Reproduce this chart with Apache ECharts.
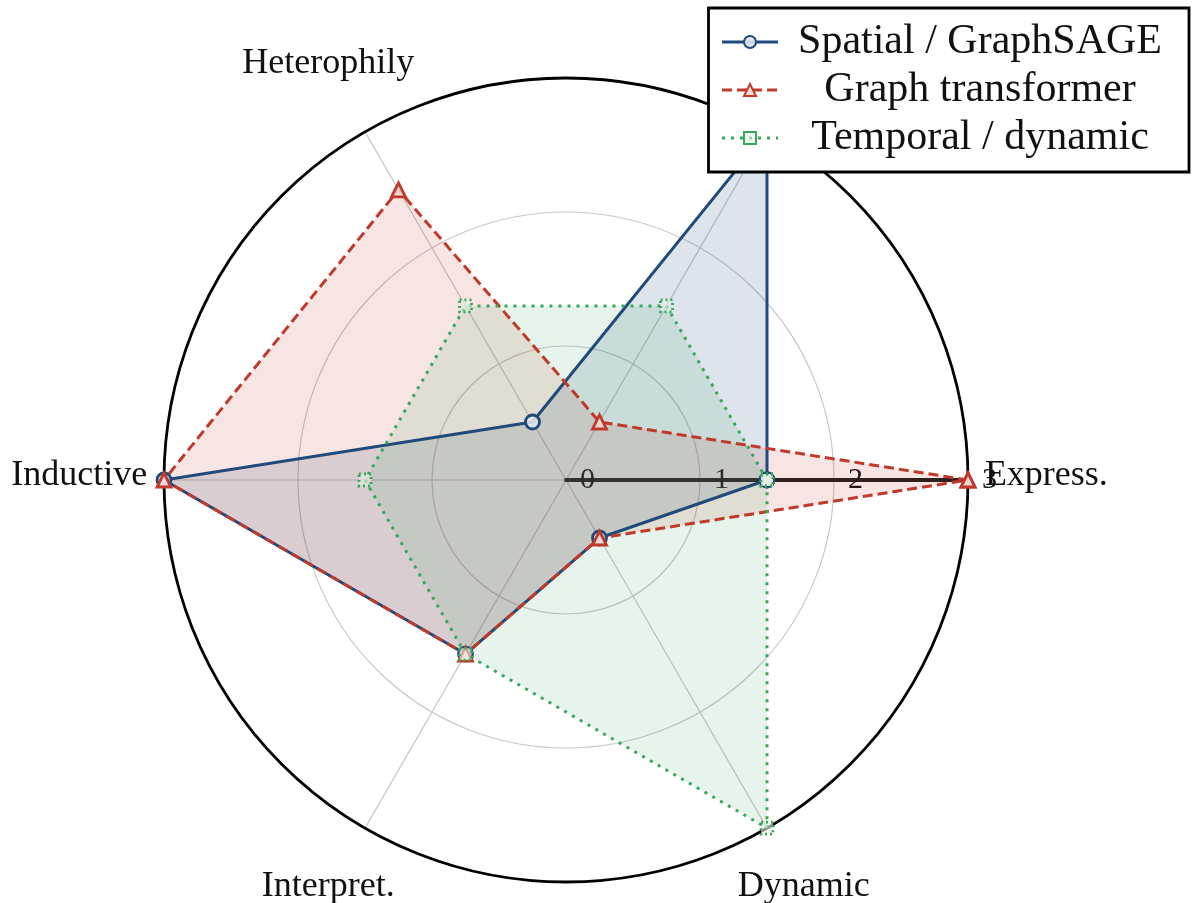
<!DOCTYPE html>
<html>
<head>
<meta charset="utf-8">
<script src="https://cdn.jsdelivr.net/npm/echarts@6/dist/echarts.min.js"></script>
<style>
  html, body { margin: 0; padding: 0; background: #fff; }
  #chart { width: 1198px; height: 903px; }
</style>
</head>
<body>
<div id="chart"></div>
<script>
// Axes of the comparison, counter-clockwise from the right
const categories = ['Express.', 'Scalability', 'Heterophily', 'Inductive', 'Interpret.', 'Dynamic'];

// Scores per model family (0–3)
const spatialGraphSAGE = [1.5, 3, 0.5, 3, 1.5, 0.5];
const graphTransformer = [3, 0.5, 2.5, 3, 1.5, 0.5];
const temporalDynamic = [1.5, 1.5, 1.5, 1.5, 1.5, 3];

const seriesNames = ['Spatial / GraphSAGE', 'Graph transformer', 'Temporal / dynamic'];
const radiusTicks = [0, 1, 2, 3];

const SERIF = 'Liberation Serif';
const STEP = 360 / categories.length;
const R_MAX = radiusTicks[radiusTicks.length - 1];
const NAME_R_SIDE = R_MAX * 1.042;   // horizontal axes: name starts just past the ring
const NAME_R_DIAG = R_MAX * 1.183;   // slanted axes: name centred further out

// [radius, angle] pairs, closed back onto the first axis
function toPolar(values) {
  const pts = values.map((v, i) => [v, i * STEP]);
  pts.push([values[0], 360]);
  return pts;
}

function profile(name, values, color, dash, symbol, fillOpacity, markerFill) {
  return {
    name: name,
    type: 'line',
    coordinateSystem: 'polar',
    data: toPolar(values),
    symbol: symbol,
    symbolSize: symbol === 'rect' ? 12 : 14,
    showSymbol: true,
    lineStyle: { color: color, width: 3, type: dash, cap: 'butt' },
    itemStyle: {
      color: markerFill,
      borderColor: color,
      borderWidth: 2.8,
      borderType: symbol === 'rect' ? [2, 3] : 'solid'
    },
    areaStyle: { color: color, opacity: fillOpacity },
    emphasis: { disabled: true },
    z: 3
  };
}

// Axis-name points: names on the horizontal axes hug the ring, the rest are centred
function namePoint(c, i) {
  const a = i * STEP;
  const cos = Math.cos(a * Math.PI / 180);
  const horizontal = Math.abs(Math.abs(cos) - 1) < 1e-6;
  return {
    name: c,
    value: [horizontal ? NAME_R_SIDE : NAME_R_DIAG, a],
    label: horizontal
      ? { align: cos > 0 ? 'left' : 'right', offset: [0, -4] }
      : { align: 'center', offset: [0, -5] }
  };
}

const chart = echarts.init(document.getElementById('chart'), null, { renderer: 'canvas' });

chart.setOption({
  animation: false,
  backgroundColor: '#fff',
  polar: { center: [566, 480], radius: 402 },
  angleAxis: {
    type: 'value',
    min: 0,
    max: 360,
    interval: STEP,
    startAngle: 0,
    clockwise: false,
    axisLine: { lineStyle: { color: '#000', width: 2.8 } },
    axisTick: { show: false },
    axisLabel: { show: false },
    splitLine: { show: true, lineStyle: { color: '#c8c8c8', width: 1.2 } }
  },
  radiusAxis: {
    type: 'value',
    min: radiusTicks[0],
    max: R_MAX,
    interval: radiusTicks[1] - radiusTicks[0],
    axisLine: { show: true, lineStyle: { color: '#1c1c1c', width: 4 } },
    axisTick: { show: false },
    axisLabel: {
      show: true,
      margin: 0,
      align: 'left',
      verticalAlign: 'middle',
      padding: [0, 0, 0, 14],
      fontFamily: SERIF,
      fontSize: 30,
      color: '#111'
    },
    splitLine: { show: true, lineStyle: { color: '#c8c8c8', width: 1.2 } }
  },
  legend: {
    data: seriesNames,
    orient: 'vertical',
    top: 8,
    right: 9,
    padding: [10, 12, 10, 12],
    itemGap: 0,
    itemWidth: 56,
    itemHeight: 15,
    backgroundColor: '#fff',
    borderColor: '#000',
    borderWidth: 2.8,
    borderRadius: 0,
    selectedMode: false,
    lineStyle: { width: 3 },
    formatter: '{t|{name}}',
    textStyle: {
      fontFamily: SERIF,
      fontSize: 42,
      color: '#111',
      rich: {
        t: {
          width: 394,
          height: 48,
          align: 'center',
          lineHeight: 48,
          fontFamily: SERIF,
          fontSize: 42,
          color: '#111'
        }
      }
    },
    z: 10
  },
  series: [
    profile(seriesNames[0], spatialGraphSAGE, '#1f4a7a', 'solid', 'circle', 0.15, 'rgba(225,228,236,0.9)'),
    profile(seriesNames[1], graphTransformer, '#c0392b', [10, 5], 'triangle', 0.13, 'rgba(240,215,212,0.9)'),
    profile(seriesNames[2], temporalDynamic, '#37a85a', [3, 6], 'rect', 0.12, 'rgba(228,240,230,0.6)'),
    {
      // axis names around the outer ring
      type: 'scatter',
      coordinateSystem: 'polar',
      clip: false,
      silent: true,
      symbolSize: 0,
      itemStyle: { opacity: 1 },
      data: categories.map(namePoint),
      label: {
        show: true,
        position: 'inside',
        verticalAlign: 'middle',
        formatter: p => p.name,
        fontFamily: SERIF,
        fontSize: 36,
        color: '#111'
      },
      z: 1
    }
  ]
});
</script>
</body>
</html>
